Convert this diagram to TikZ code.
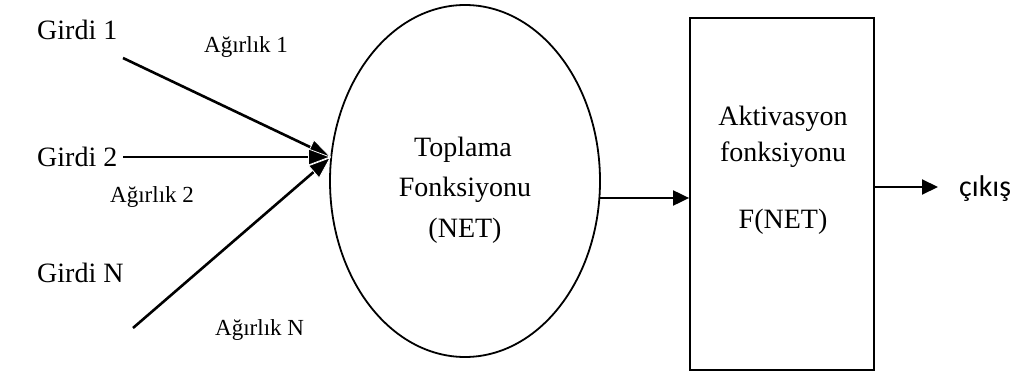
\documentclass[tikz,border=0pt]{standalone}
\usepackage{fontspec}
\setmainfont{Liberation Serif}
\newfontfamily\outfont{Carlito}
\usetikzlibrary{arrows.meta,shapes.geometric}

\begin{document}
\begin{tikzpicture}[x=1pt,y=-1pt,
  wire/.style={line width=2.6pt,
    -{Triangle[length=23pt,width=17pt,line width=0.8pt,color=white,fill=black]}},
  thinwire/.style={line width=2pt,-{Triangle[length=16pt,width=15pt]}},
  biglabel/.style={inner sep=0pt,anchor=base,font=\fontsize{28}{34}\selectfont},
  inlabel/.style={inner sep=0pt,anchor=base west,font=\fontsize{28}{34}\selectfont},
  wlabel/.style={inner sep=0pt,anchor=base west,font=\fontsize{23}{27}\selectfont},
  sumshape/.style={draw,ellipse,line width=1.8pt,inner sep=0pt,
    minimum width=270pt,minimum height=352pt},
  actshape/.style={draw,rectangle,line width=1.8pt,inner sep=0pt,
    minimum width=184pt,minimum height=352pt}]
\useasboundingbox (0,0) rectangle (1016,371);

% summation unit and activation unit
\node[sumshape] (sum) at (465,181) {};
\node[actshape] (act) at (782,194) {};

% inputs and weights
\node[inlabel] (g1) at (37,40) {Girdi 1};
\node[inlabel] (g2) at (37,167) {Girdi 2};
\node[inlabel] (gn) at (37,282) {Girdi N};
\node[wlabel] (w1) at (204,53) {Ağırlık 1};
\node[wlabel] (w2) at (110,203) {Ağırlık 2};
\node[wlabel] (wn) at (215,335) {Ağırlık N};

\coordinate (s1) at (123,58);
\coordinate (s2) at (123,157);
\coordinate (sn) at (133,328);
\coordinate (join) at (331,157);

\draw[wire] (s1) -- (join);
\draw[wire] (s2) -- (join);
\draw[wire] (sn) -- (join);

% labels inside the units
\node[biglabel] (t1) at (463,157) {Toplama};
\node[biglabel] (t2) at (465,197) {Fonksiyonu};
\node[biglabel] (t3) at (465,237) {(NET)};
\node[biglabel] (a1) at (783,126) {Aktivasyon};
\node[biglabel] (a2) at (783,162) {fonksiyonu};
\node[biglabel] (a3) at (783,229) {F(NET)};

% sum -> activation -> output
\coordinate (sumout) at (599,198);
\draw[thinwire] (sumout) -- (sumout -| act.west);
\coordinate (outtip) at (938,187);
\draw[thinwire] (outtip -| act.east) -- (outtip);
\node[inner sep=0pt,anchor=west,font=\outfont\fontsize{30}{34}\selectfont] (out) at (959,189) {çıkış};
\end{tikzpicture}
\end{document}
